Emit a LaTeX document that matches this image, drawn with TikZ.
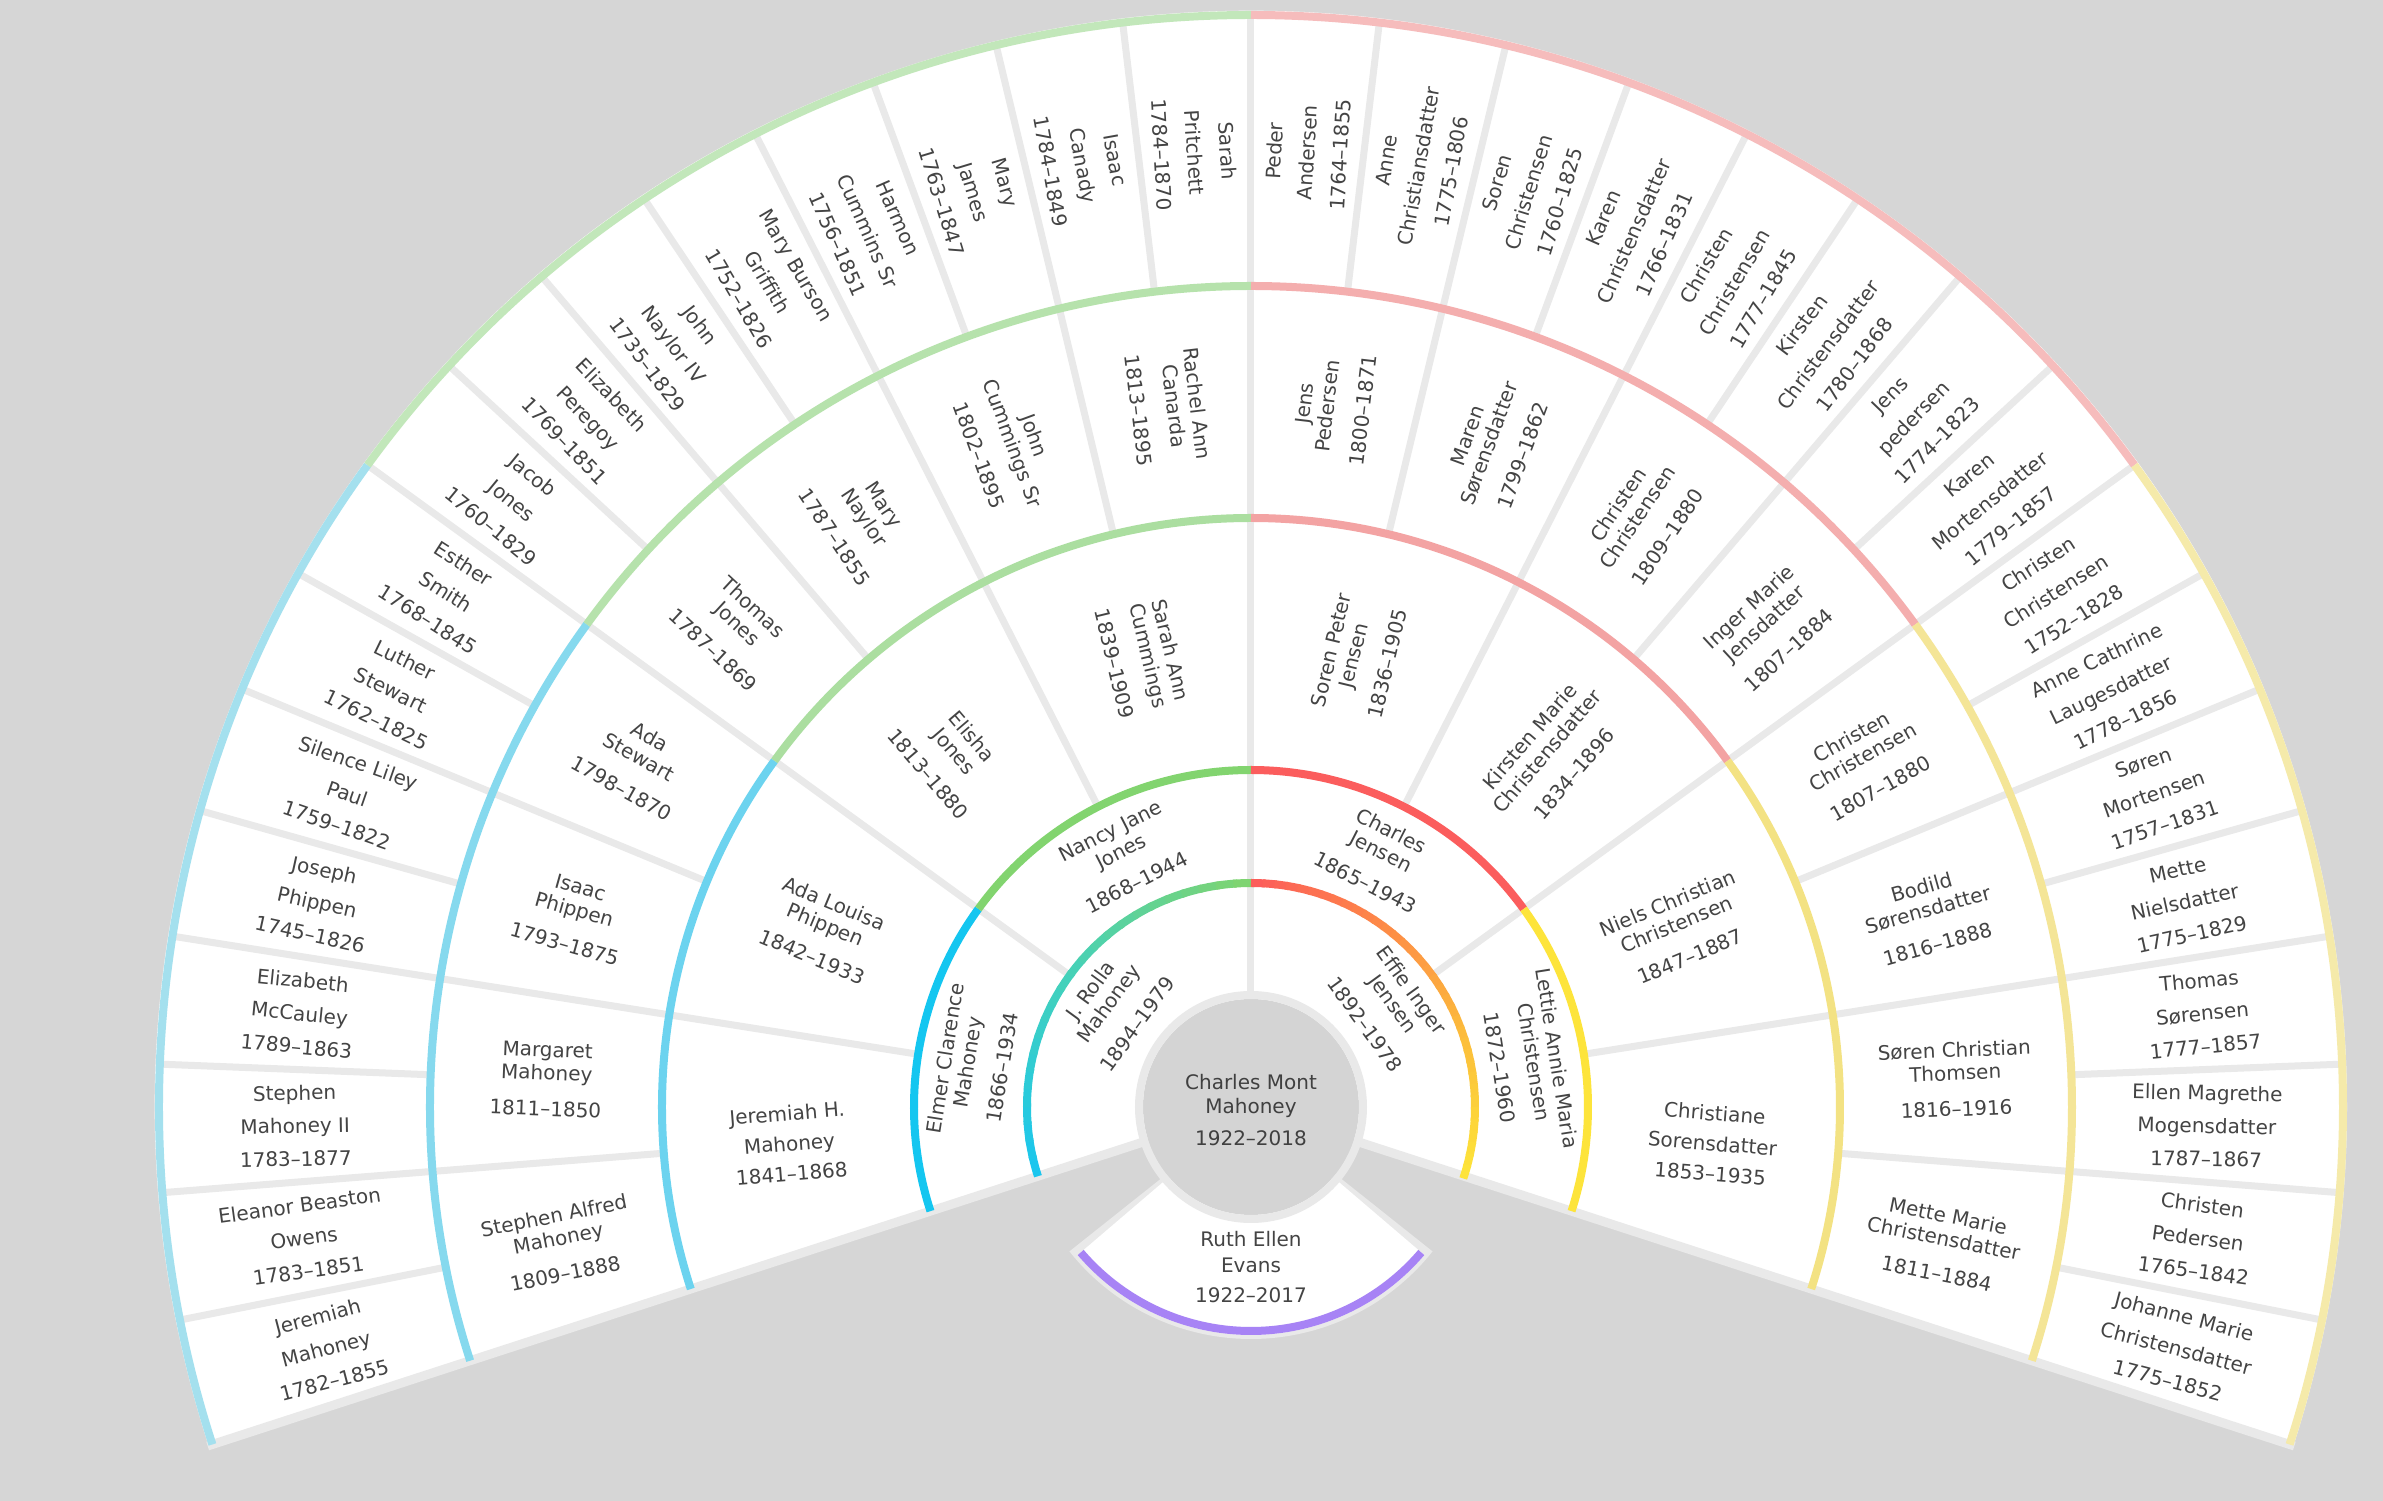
\documentclass[tikz,border=0pt]{standalone}
\usepackage{fontspec}
\setmainfont{DejaVu Sans}
\definecolor{bgc}{HTML}{D6D6D6}
\definecolor{sepc}{HTML}{E9E9E9}
\definecolor{circc}{HTML}{D4D4D4}
\definecolor{txtc}{HTML}{444444}
\definecolor{B5}{HTML}{A4E0EE}\definecolor{G5}{HTML}{C2E7BA}\definecolor{R5}{HTML}{F6BCBC}\definecolor{Y5}{HTML}{F5EAAA}
\definecolor{B4}{HTML}{86D9EE}\definecolor{G4}{HTML}{B6E2AC}\definecolor{R4}{HTML}{F4AEAE}\definecolor{Y4}{HTML}{F4E597}
\definecolor{B3}{HTML}{6CD3EF}\definecolor{G3}{HTML}{ABDEA0}\definecolor{R3}{HTML}{F3A3A3}\definecolor{Y3}{HTML}{F3E283}
\definecolor{B2}{HTML}{14C6F0}\definecolor{G2}{HTML}{82D46F}\definecolor{R2}{HTML}{FB5D5D}\definecolor{Y2}{HTML}{FDE43B}
\definecolor{PU}{HTML}{A783F5}
\definecolor{gA}{HTML}{19C6F0}\definecolor{gB}{HTML}{45D1B9}\definecolor{gC}{HTML}{80D46E}
\definecolor{eA}{HTML}{FC5B5B}\definecolor{eB}{HTML}{FD8A47}\definecolor{eC}{HTML}{FCBD3B}\definecolor{eD}{HTML}{FDE53A}
\newcommand\gradarc[5]{%
  \foreach \k in {0,...,11}{%
    \pgfmathsetmacro\aa{#1+(#2-#1)*\k/12}%
    \pgfmathsetmacro\ab{#1+(#2-#1)*(\k+1.2)/12}%
    \pgfmathsetmacro\pp{100*(\k+0.5)/12}%
    \draw[line width=8pt,color=#4!\pp!#3] (\aa:#5) arc[start angle=\aa,end angle=\ab,radius=#5];
  }}
\begin{document}
\begin{tikzpicture}[x=1pt,y=1pt,
  sepline/.style={line width=7pt, draw=sepc},
  band/.style={line width=8pt},
  lbl/.style={align=center, text=txtc, inner sep=0pt, font=\fontsize{20}{23}\selectfont},
  lblw/.style={align=center, text=txtc, inner sep=0pt, font=\fontsize{20}{33}\selectfont}]
\fill[bgc] (-1251,-394) rectangle (1132,1107);
\useasboundingbox (-1251,-394) rectangle (1132,1107);
% fan
\fill[white] (0,0) -- (198:1096) arc[start angle=198, end angle=-18, radius=1096] -- cycle;
% spouse cell
\fill[sepc] (0,0) -- (218.5:232) arc[start angle=218.5,end angle=321.5,radius=232] -- cycle;
\fill[white] (0,0) -- (220.5:228) arc[start angle=220.5,end angle=319.5,radius=228] -- cycle;
% separators
\foreach \n/\ri/\ro in {2/112/224, 4/224/337, 8/337/589, 16/589/821, 32/821/1092} {
  \pgfmathtruncatemacro\m{\n-1}
  \foreach \k in {1,...,\m} {
    \pgfmathsetmacro\a{198-\k*216/\n}
    \draw[sepline] (\a:\ri) -- (\a:\ro);
  }
}
% edges
\draw[sepc, line width=9pt] (198:108) -- (198:1097);
\draw[sepc, line width=9pt] (-18:108) -- (-18:1097);
% bands
\foreach \R/\ca/\cb/\cc/\cd in {1092/B5/G5/R5/Y5, 821/B4/G4/R4/Y4, 589/B3/G3/R3/Y3, 337/B2/G2/R2/Y2} {
  \draw[band, draw=\ca] (198:\R) arc[start angle=198, end angle=144, radius=\R];
  \draw[band, draw=\cb] (144:\R) arc[start angle=144, end angle=90, radius=\R];
  \draw[band, draw=\cc] (90:\R) arc[start angle=90, end angle=36, radius=\R];
  \draw[band, draw=\cd] (36:\R) arc[start angle=36, end angle=-18, radius=\R];
}
\gradarc{198}{144}{gA}{gB}{224}
\gradarc{144}{90}{gB}{gC}{224}
\gradarc{90}{54}{eA}{eB}{224}
\gradarc{54}{18}{eB}{eC}{224}
\gradarc{18}{-18}{eC}{eD}{224}
\draw[band, draw=PU] (220.5:224) arc[start angle=220.5, end angle=319.5, radius=224];
% center circle
\fill[circc] (0,0) circle[radius=108];
\draw[sepc, line width=8pt] (0,0) circle[radius=112];
\node[lbl, text=black!75, font=\fontsize{20}{24}\selectfont] (root) at (0,-3) {Charles Mont\\Mahoney\\[8pt]1922–2018};
\node[lbl, font=\fontsize{20}{26}\selectfont] (spouse) at (0,-160) {Ruth Ellen\\Evans\\[4pt]1922–2017};
% generation 1
\foreach \t [count=\i] in {{J. Rolla\\Mahoney\\[12pt]1894–1979},{Effie Inger\\Jensen\\[12pt]1892–1978}}{
  \pgfmathsetmacro\a{198-(\i-0.5)*108}
  \node[lbl, rotate=\a-90] (g1-\i) at (\a:170) {\t};
}
% generation 2
\foreach \t [count=\i] in {{Elmer Clarence\\Mahoney\\[12pt]1866–1934},{Nancy Jane\\Jones\\[12pt]1868–1944},{Charles\\Jensen\\[12pt]1865–1943},{Lettie Annie Maria\\Christensen\\[12pt]1872–1960}}{
  \pgfmathsetmacro\a{198-(\i-0.5)*54}
  \node[lbl, rotate=\a-90] (g2-\i) at (\a:281) {\t};
}
% generation 3
\foreach \t [count=\i] in {
 {Jeremiah H.\\[7pt]Mahoney\\[7pt]1841–1868},
 {Ada Louisa\\Phippen\\[12pt]1842–1933},
 {Elisha\\Jones\\[12pt]1813–1880},
 {Sarah Ann\\Cummings\\[12pt]1839–1909},
 {Soren Peter\\Jensen\\[12pt]1836–1905},
 {Kirsten Marie\\Christensdatter\\[12pt]1834–1896},
 {Niels Christian\\Christensen\\[12pt]1847–1887},
 {Christiane\\[7pt]Sorensdatter\\[7pt]1853–1935}}{
  \pgfmathsetmacro\a{198-(\i-0.5)*27}
  \pgfmathsetmacro\r{\a>90 ? \a-180 : \a}
  \node[lbl, rotate=\r] (g3-\i) at (\a:463) {\t};
}
% generation 4
\foreach \t [count=\i] in {
 {Stephen Alfred\\Mahoney\\[13pt]1809–1888},
 {Margaret\\Mahoney\\[13pt]1811–1850},
 {Isaac\\Phippen\\[13pt]1793–1875},
 {Ada\\Stewart\\[13pt]1798–1870},
 {Thomas\\Jones\\[13pt]1787–1869},
 {Mary\\Naylor\\[13pt]1787–1855},
 {John\\Cummings Sr\\[13pt]1802–1895},
 {Rachel Ann\\Canarda\\[13pt]1813–1895},
 {Jens\\Pedersen\\[13pt]1800–1871},
 {Maren\\Sørensdatter\\[13pt]1799–1862},
 {Christen\\Christensen\\[13pt]1809–1880},
 {Inger Marie\\Jensdatter\\[13pt]1807–1884},
 {Christen\\Christensen\\[13pt]1807–1880},
 {Bodild\\Sørensdatter\\[13pt]1816–1888},
 {Søren Christian\\Thomsen\\[13pt]1816–1916},
 {Mette Marie\\Christensdatter\\[13pt]1811–1884}}{
  \pgfmathsetmacro\a{198-(\i-0.5)*13.5}
  \pgfmathsetmacro\r{\a>90 ? \a-180 : \a}
  \node[lbl, rotate=\r] (g4-\i) at (\a:705) {\t};
}
% generation 5
\foreach \t [count=\i] in {
 {Jeremiah\\Mahoney\\1782–1855},
 {Eleanor Beaston\\Owens\\1783–1851},
 {Stephen\\Mahoney II\\1783–1877},
 {Elizabeth\\McCauley\\1789–1863},
 {Joseph\\Phippen\\1745–1826},
 {Silence Liley\\Paul\\1759–1822},
 {Luther\\Stewart\\1762–1825},
 {Esther\\Smith\\1768–1845},
 {Jacob\\Jones\\1760–1829},
 {Elizabeth\\Peregoy\\1769–1851},
 {John\\Naylor IV\\1735–1829},
 {Mary Burson\\Griffith\\1752–1826},
 {Harmon\\Cummins Sr\\1756–1851},
 {Mary\\James\\1763–1847},
 {Isaac\\Canady\\1784–1849},
 {Sarah\\Pritchett\\1784–1870},
 {Peder\\Andersen\\1764–1855},
 {Anne\\Christiansdatter\\1775–1806},
 {Soren\\Christensen\\1760–1825},
 {Karen\\Christensdatter\\1766–1831},
 {Christen\\Christensen\\1777–1845},
 {Kirsten\\Christensdatter\\1780–1868},
 {Jens\\pedersen\\1774–1823},
 {Karen\\Mortensdatter\\1779–1857},
 {Christen\\Christensen\\1752–1828},
 {Anne Cathrine\\Laugesdatter\\1778–1856},
 {Søren\\Mortensen\\1757–1831},
 {Mette\\Nielsdatter\\1775–1829},
 {Thomas\\Sørensen\\1777–1857},
 {Ellen Magrethe\\Mogensdatter\\1787–1867},
 {Christen\\Pedersen\\1765–1842},
 {Johanne Marie\\Christensdatter\\1775–1852}}{
  \pgfmathsetmacro\a{198-(\i-0.5)*6.75}
  \pgfmathsetmacro\r{\a>90 ? \a-180 : \a}
  \node[lblw, rotate=\r] (g5-\i) at (\a:956) {\t};
}
\end{tikzpicture}
\end{document}
